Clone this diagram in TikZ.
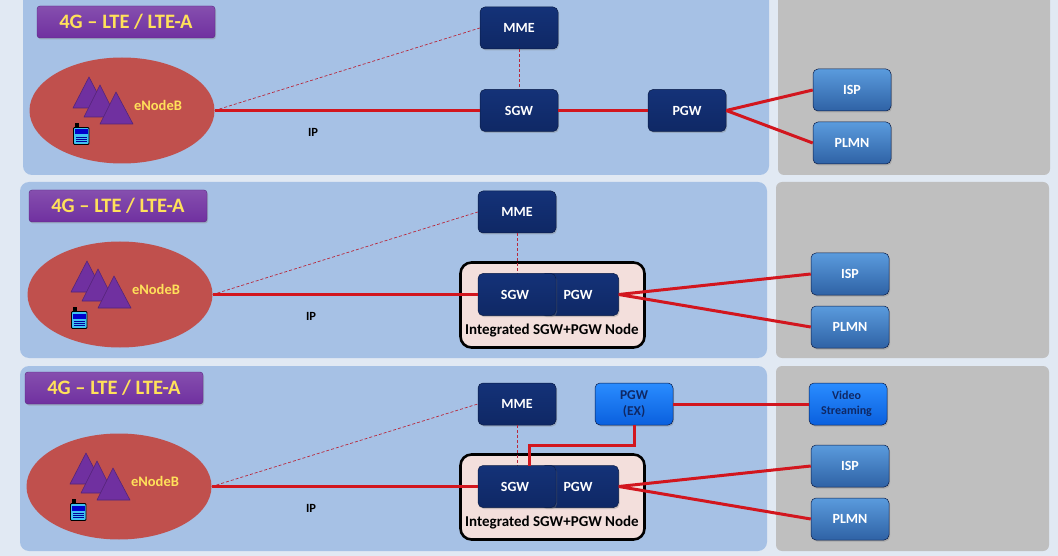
\documentclass[tikz,border=0pt]{standalone}
\usepackage{fontspec}
\setmainfont{Carlito}
\usetikzlibrary{arrows.meta,positioning,calc,shadows,shapes.geometric}
\definecolor{PageBack}{HTML}{E1E9F3}
\definecolor{PanelBlue}{HTML}{A6C1E5}
\definecolor{PanelGray}{HTML}{BFBFBF}
\definecolor{LinkRed}{HTML}{D2161E}
\definecolor{DashRed}{HTML}{B8283C}
\definecolor{CellRed}{HTML}{C0504D}
\definecolor{TitlePurple}{HTML}{7030A0}
\definecolor{TitleText}{HTML}{FFE15A}
\definecolor{NavyDark}{HTML}{0F2865}
\definecolor{NavyLight}{HTML}{143278}
\definecolor{SteelTop}{HTML}{5A9BDD}
\definecolor{SteelLow}{HTML}{2F62A5}
\definecolor{BrightTop}{HTML}{2A8CFF}
\definecolor{BrightLow}{HTML}{0A60DE}
\definecolor{NodePink}{HTML}{F3DFDC}
\tikzset{every node/.style={font=\bfseries},
 gwbox/.style={rounded corners=5pt,minimum width=78pt,minimum height=42pt,inner sep=0pt,
  align=center,draw=NavyDark!70!black,line width=.5pt,drop shadow={shadow xshift=1pt,shadow yshift=-1.5pt,opacity=.35}},
 navybox/.style={gwbox,top color=NavyLight,bottom color=NavyDark,text=white,font=\bfseries\fontsize{14}{16}\selectfont},
 steelbox/.style={gwbox,top color=SteelTop,bottom color=SteelLow,text=white,font=\bfseries\fontsize{14}{16}\selectfont},
 brightbox/.style={gwbox,top color=BrightTop,bottom color=BrightLow,text=NavyDark,font=\bfseries\fontsize{12}{14.5}\selectfont},
 titlebox/.style={rounded corners=3pt,minimum width=178pt,minimum height=32pt,inner sep=0pt,
  top color=TitlePurple!85!white,bottom color=TitlePurple,draw=TitlePurple!80!black,text=TitleText,
  font=\bfseries\fontsize{20.5}{22}\selectfont,drop shadow={shadow xshift=1pt,shadow yshift=-1.5pt,opacity=.35}},
 cell/.style={ellipse,fill=CellRed,minimum width=185pt,minimum height=106pt,inner sep=0pt},
 intbox/.style={rounded corners=11pt,draw=black,line width=2.6pt,fill=NodePink,minimum width=184pt,minimum height=85pt,inner sep=0pt},
 link/.style={LinkRed,line width=3pt},
 ctrl/.style={DashRed,line width=.7pt,densely dashed},
 mast/.style={fill=TitlePurple,draw=TitlePurple!75!black,line width=.6pt,line join=round}}
\begin{document}
\begin{tikzpicture}[x=1pt,y=-1pt]
\useasboundingbox (0,0) rectangle (1058,556);
\clip (0,0) rectangle (1058,556);
\fill[PageBack] (0,0) rectangle (1058,556);
% panels
\foreach \xa/\ya/\xb/\yb in {23/-10/769/175,20/182/767/358,20/366/767/551}
 {\fill[PanelBlue,rounded corners=9pt] (\xa,\ya) rectangle (\xb,\yb);}
\foreach \xa/\ya/\xb/\yb in {778/-10/1050/175,776/182/1049/358,776/366/1049/551}
 {\fill[PanelGray,rounded corners=6pt] (\xa,\ya) rectangle (\xb,\yb);}
% titles, cells and everything inside a cell
\foreach \r/\dx/\dy/\tx/\ty/\ix/\iy in {1/0/0/126/22/313/132,2/-2/184/118/206/311/316,3/-3/376/114/388/311/508}
 {\node[titlebox] (title\r) at (\tx,\ty){4G -- LTE / LTE-A};
 \node[cell] (enb\r) at (122+\dx,110.5+\dy){};
 \begin{scope}[shift={(\dx,\dy)}]
 \draw[mast] (89,77)--(105,108)--(73,108)--cycle;
 \draw[mast] (100,85)--(116,117)--(84,117)--cycle;
 \draw[mast] (116,92)--(133,124)--(100,124)--cycle;
 \fill[black] (75,123) rectangle (79,128);
 \draw[black,fill=cyan!75!white,rounded corners=1pt,line width=.8pt] (73.5,127.5) rectangle (89,144.5);
 \fill[blue!80!black] (75,129.5) rectangle (87.5,134.5);
 \foreach \y in {137,139,141}\draw[blue!60!black,line width=.3pt] (76,\y)--(86.5,\y);
 \end{scope}
 \node[text=TitleText,font=\bfseries\fontsize{14.5}{16}\selectfont] (cellname\r) at (158+\dx,105+\dy){eNodeB};
 \node[font=\bfseries\fontsize{12.5}{14}\selectfont] (ip\r) at (\ix,\iy){IP};}
% first row
\node[navybox] (mme1) at (519,28){MME};
\node[navybox] (sgw1) at (519,110.5){SGW};
\node[navybox] (pgw1) at (687,110.5){PGW};
\node[steelbox] (isp1) at (852,90){ISP};
\node[steelbox] (plmn1) at (852,143){PLMN};
\draw[ctrl] (enb1.east)--(mme1.west);
\draw[ctrl] (mme1)--(sgw1);
\draw[link] (enb1.east)--(sgw1);
\draw[link] (sgw1)--(pgw1);
\draw[link] (pgw1.east)--(isp1.west);
\draw[link] (pgw1.east)--(plmn1.west);
% integrated rows
\foreach \r/\my/\ny/\iy/\py in {2/212/294.5/274/327,3/404/486.5/466/519}
 {\node[navybox] (mme\r) at (517,\my){MME};
 \node[intbox] (int\r) at (552.5,\ny+10.5){};
 \node[font=\bfseries\fontsize{15}{17}\selectfont] (intname\r) at (552,\ny+36){Integrated SGW+PGW Node};
 \draw[ctrl] (enb\r.east)--(mme\r.west);
 \draw[ctrl] (mme\r)--(517,\ny);
 \node[navybox] (pgw\r) at (579.5,\ny){\hspace*{-3pt}PGW};
 \node[navybox] (sgw\r) at (517,\ny){\hspace*{-4pt}SGW};
 \node[steelbox] (isp\r) at (850,\iy){ISP};
 \node[steelbox] (plmn\r) at (850,\py){PLMN};
 \draw[link] (enb\r.east)--(sgw\r.west);
 \draw[link] (pgw\r.east)--(isp\r.west);
 \draw[link] (pgw\r.east)--(plmn\r.west);}
% external gateway
\node[brightbox,font=\bfseries\fontsize{13.5}{15.5}\selectfont] (pgwex) at (634,404){PGW\\(EX)};
\node[brightbox] (video) at (848,404){\hspace*{-3pt}Video\\\hspace*{-3pt}Streaming};
\coordinate (tap) at (529,466);
\draw[link] (pgwex)--(video);
\draw[link,line join=miter] (pgwex.south)--++(0,20)-|(tap);
\end{tikzpicture}
\end{document}
